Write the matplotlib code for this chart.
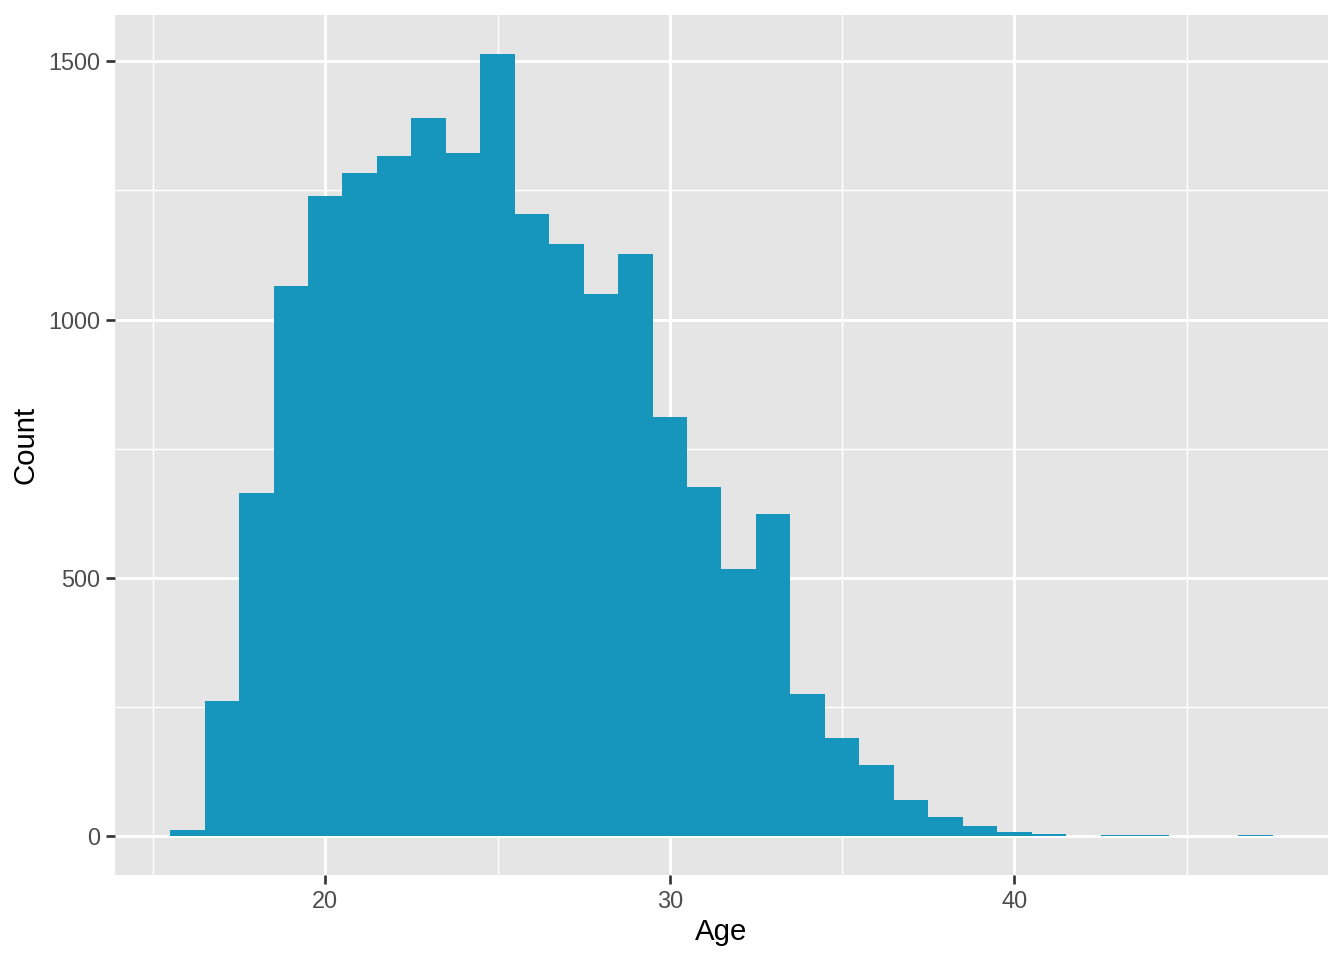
import matplotlib
matplotlib.use('Agg')
import matplotlib.pyplot as plt
from matplotlib.ticker import MultipleLocator

# edades (centro de cada bin, ancho 1) y conteos
ages = [16, 17, 18, 19, 20, 21, 22, 23, 24, 25, 26, 27, 28, 29, 30, 31,
        32, 33, 34, 35, 36, 37, 38, 39, 40, 41, 42, 43, 44, 45, 46, 47]
counts = [12, 261, 665, 1064, 1240, 1284, 1317, 1391, 1323, 1514, 1205, 1147,
          1050, 1126, 812, 675, 516, 623, 275, 190, 137, 70, 37, 19, 8, 4,
          0, 2, 2, 0, 0, 2]

x_ticks = [20, 30, 40]
y_ticks = [0, 500, 1000, 1500]

BAR_COLOR = '#1796BD'
PANEL_BG = '#E5E5E5'

plt.rcParams['font.family'] = ['Liberation Sans', 'DejaVu Sans']

fig = plt.figure(figsize=(7, 5), dpi=192)
ax = fig.add_axes([115 / 1344, 1 - 875 / 960, (1328 - 115) / 1344, (875 - 15) / 960])
ax.set_facecolor(PANEL_BG)

ax.bar(ages, counts, width=1.0, color=BAR_COLOR, linewidth=0, zorder=3)

# limites con expansion 5% como ggplot
lo, hi = ages[0] - 0.5, ages[-1] + 0.5
pad = (hi - lo) * 0.05
ax.set_xlim(lo - pad, hi + pad)
ymax = max(counts)
ax.set_ylim(-ymax * 0.05, ymax * 1.05)

ax.set_xticks(x_ticks)
ax.set_yticks(y_ticks)
ax.xaxis.set_minor_locator(MultipleLocator(5))
ax.yaxis.set_minor_locator(MultipleLocator(250))

ax.grid(which='major', color='white', linewidth=1.1, zorder=1)
ax.grid(which='minor', color='white', linewidth=0.55, zorder=1)
ax.set_axisbelow(True)

for s in ax.spines.values():
    s.set_visible(False)

ax.tick_params(which='major', length=3.5, width=1.0, color='#333333',
               labelsize=8.8, labelcolor='#4D4D4D', pad=2.0)
ax.tick_params(which='minor', length=0)

ax.set_xlabel('Age', fontsize=11, color='black', labelpad=2.0)
ax.set_ylabel('Count', fontsize=11, color='black', labelpad=3.3)

fig.savefig('out.png', dpi=192)
